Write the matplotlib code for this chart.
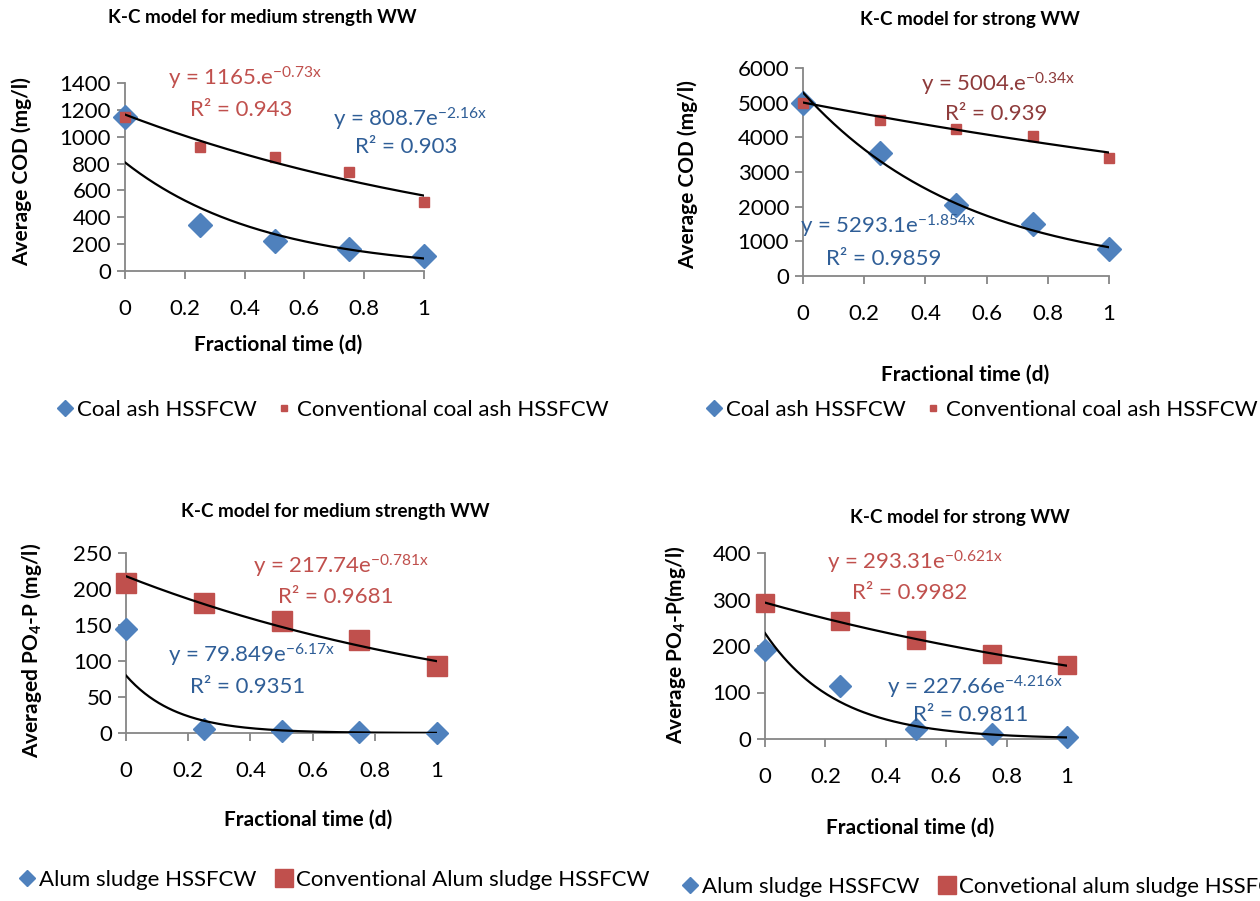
import numpy as np
import matplotlib
matplotlib.use('Agg')
import matplotlib.pyplot as plt
from matplotlib.lines import Line2D

plt.rcParams['font.family'] = ['Lato', 'DejaVu Sans']
plt.rcParams['mathtext.fontset'] = 'custom'
plt.rcParams['mathtext.rm'] = 'Lato'
plt.rcParams['mathtext.it'] = 'Lato:italic'
plt.rcParams['mathtext.bf'] = 'Lato:bold'

# fractional time (d)
time_d = [0, 0.25, 0.5, 0.75, 1]

# COD, medium strength WW
cod_med_coal = [1150, 340, 220, 165, 110]
cod_med_conv = [1145, 925, 850, 735, 515]
# COD, strong WW
cod_str_coal = [5000, 3550, 2050, 1500, 770]
cod_str_conv = [5000, 4500, 4250, 4050, 3400]
# PO4-P, medium strength WW
po4_med_alum = [144, 6, 3, 1, 0.5]
po4_med_conv = [208, 180, 155, 129, 93]
# PO4-P, strong WW
po4_str_alum = [192, 115, 22, 10, 4]
po4_str_conv = [293, 254, 213, 183, 160]

# exponential trendlines (a, k) -> y = a*exp(-k x)
fit_cod_med = [(1165, 0.73), (808.7, 2.16)]
fit_cod_str = [(5004, 0.34), (5293.1, 1.854)]
fit_po4_med = [(217.74, 0.781), (79.849, 6.17)]
fit_po4_str = [(293.31, 0.621), (227.66, 4.216)]

BLUE = '#4F81BD'
RED = '#C0504D'
BLUE_TXT = '#2F5E97'
RED_TXT = '#C0504D'
GRAY = '#868686'

W, H = 1260, 901
fig = plt.figure(figsize=(W / 100, H / 100), dpi=100)


def px(x, y):
    return x / W, 1 - y / H


def make_axes(left, right, y0, ytop):
    return fig.add_axes([left / W, 1 - y0 / H, (right - left) / W, (y0 - ytop) / H])


def panel(ax, ymax, ystep, blue, red, fits, sq_size, di_size):
    ax.plot(time_d, blue, 'D', color=BLUE, markersize=di_size, zorder=3, clip_on=False)
    ax.plot(time_d, red, 's', color=RED, markersize=sq_size, zorder=3, clip_on=False)
    xx = np.linspace(0, 1, 200)
    for a, k in fits:
        ax.plot(xx, a * np.exp(-k * xx), color='black', lw=1.6, zorder=4)
    ax.set_xlim(0, 1)
    ax.set_ylim(0, ymax)
    ax.set_xticks([0, 0.2, 0.4, 0.6, 0.8, 1])
    ax.set_xticklabels(['0', '0.2', '0.4', '0.6', '0.8', '1'])
    ax.set_yticks(np.arange(0, ymax + 1, ystep))
    for s in ['top', 'right']:
        ax.spines[s].set_visible(False)
    for s in ['left', 'bottom']:
        ax.spines[s].set_color(GRAY)
        ax.spines[s].set_linewidth(1.3)
    ax.tick_params(axis='both', colors=GRAY, labelcolor='black', labelsize=16,
                   length=6, width=1.3, direction='out')
    ax.tick_params(axis='x', pad=14)
    ax.tick_params(axis='y', pad=4)
    ax.patch.set_alpha(0)


def eq(x, y, s, color):
    fig.text(*px(x, y), s, color=color, fontsize=16, ha='left', va='center')


def bold(x, y, s, size=14, rot=0):
    fig.text(*px(x, y), s, fontsize=size, fontweight='bold', ha='center',
             va='center', rotation=rot)


def legend(ax, x, y, labels, sq_size, di_size):
    handles = [Line2D([], [], ls='none', marker='D', color=BLUE, markersize=di_size),
               Line2D([], [], ls='none', marker='s', color=RED, markersize=sq_size)]
    ax.legend(handles, labels, loc='center left', bbox_to_anchor=px(x, y),
              bbox_transform=fig.transFigure, ncol=2, frameon=False, fontsize=16,
              handlelength=0.5, handletextpad=0.3, columnspacing=1.0, borderpad=0)


# top left: COD medium strength
ax1 = make_axes(125, 424, 271, 83)
panel(ax1, 1400, 200, cod_med_coal, cod_med_conv, fit_cod_med, 7, 12)
bold(262, 18, 'K-C model for medium strength WW', 13.5)
bold(278, 345, 'Fractional time (d)', 15)
bold(22, 172, 'Average COD (mg/l)', 15, 90)
eq(168, 78, r'y = 1165.e$^{\mathregular{-0.73x}}$', RED_TXT)
eq(190, 110, 'R² = 0.943', RED_TXT)
eq(333, 119, r'y = 808.7e$^{\mathregular{-2.16x}}$', BLUE_TXT)
eq(355, 147, 'R² = 0.903', BLUE_TXT)
legend(ax1, 48, 410, ['Coal ash HSSFCW', 'Conventional coal ash HSSFCW'], 5, 8)

# top right: COD strong
ax2 = make_axes(803, 1109, 276, 68)
panel(ax2, 6000, 1000, cod_str_coal, cod_str_conv, fit_cod_str, 7, 12)
bold(970, 20, 'K-C model for strong WW', 13.5)
bold(965, 375, 'Fractional time (d)', 15)
bold(688, 175, 'Average COD (mg/l)', 15, 90)
eq(921, 84, r'y = 5004.e$^{\mathregular{-0.34x}}$', '#8E3B3B')
eq(945, 114, 'R² = 0.939', '#8E3B3B')
eq(800, 226, r'y = 5293.1e$^{\mathregular{-1.854x}}$', BLUE_TXT)
eq(826, 259, 'R² = 0.9859', BLUE_TXT)
legend(ax2, 697, 410, ['Coal ash HSSFCW', 'Conventional coal ash HSSFCW'], 5, 8)

# bottom left: PO4-P medium strength
ax3 = make_axes(126, 437, 733, 553)
panel(ax3, 250, 50, po4_med_alum, po4_med_conv, fit_po4_med, 14, 11)
bold(335, 512, 'K-C model for medium strength WW', 13.5)
bold(308, 820, 'Fractional time (d)', 15)
bold(32, 650, r'Averaged PO$_\mathbf{4}$-P (mg/l)', 15, 90)
eq(253, 566, r'y = 217.74e$^{\mathregular{-0.781x}}$', RED_TXT)
eq(278, 597, 'R² = 0.9681', RED_TXT)
eq(168, 655, r'y = 79.849e$^{\mathregular{-6.17x}}$', BLUE_TXT)
eq(190, 687, 'R² = 0.9351', BLUE_TXT)
legend(ax3, 10, 880, ['Alum sludge HSSFCW', 'Conventional Alum sludge HSSFCW'], 13, 8)

# bottom right: PO4-P strong
ax4 = make_axes(765, 1067, 739, 553)
panel(ax4, 400, 100, po4_str_alum, po4_str_conv, fit_po4_str, 13, 11)
bold(960, 518, 'K-C model for strong WW', 13.5)
bold(910, 828, 'Fractional time (d)', 15)
bold(675, 645, r'Average PO$_\mathbf{4}$-P(mg/l)', 15, 90)
eq(827, 562, r'y = 293.31e$^{\mathregular{-0.621x}}$', RED_TXT)
eq(852, 593, 'R² = 0.9982', RED_TXT)
eq(887, 687, r'y = 227.66e$^{\mathregular{-4.216x}}$', BLUE_TXT)
eq(913, 715, 'R² = 0.9811', BLUE_TXT)
legend(ax4, 673, 887, ['Alum sludge HSSFCW', 'Convetional alum sludge HSSFCW'], 13, 8)

fig.savefig('out.png', dpi=100)
